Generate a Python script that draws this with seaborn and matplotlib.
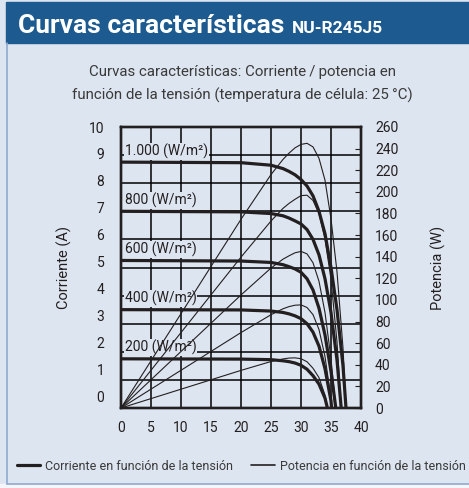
import numpy as np
import pandas as pd
import seaborn as sns
import matplotlib.pyplot as plt
from matplotlib import font_manager
from matplotlib.patches import Rectangle
from matplotlib.lines import Line2D

# curve data: voltage (V), current (A), power (W)
VOLTS_1000 = [0, 20, 25, 27, 28, 29, 30, 31, 32, 33, 34, 35, 36, 37, 37.5]
AMPS_1000 = [8.75, 8.73, 8.64, 8.52, 8.42, 8.30, 8.13, 7.90, 7.55, 7.00, 6.20, 5.00, 3.50, 1.50, 0]
WATTS_1000 = [0, 174.6, 216, 230, 235.8, 240.7, 243.9, 244.9, 241.6, 231, 210.8, 175, 126, 55.5, 0]

VOLTS_800 = [0, 20, 25, 27, 28, 29, 30, 31, 32, 33, 34, 35, 36, 36.7]
AMPS_800 = [7.00, 6.98, 6.92, 6.84, 6.76, 6.66, 6.55, 6.35, 6.00, 5.45, 4.60, 3.40, 1.70, 0]
WATTS_800 = [0, 139.6, 173, 184.7, 189.3, 193.1, 196.5, 196.9, 192, 179.9, 156.4, 119, 61.2, 0]

VOLTS_600 = [0, 20, 25, 27, 28, 29, 30, 31, 32, 33, 34, 35, 35.8]
AMPS_600 = [5.25, 5.23, 5.18, 5.10, 5.03, 4.95, 4.83, 4.60, 4.20, 3.55, 2.60, 1.30, 0]
WATTS_600 = [0, 104.6, 129.5, 137.7, 140.8, 143.6, 144.9, 142.6, 134.4, 117.2, 88.4, 45.5, 0]

VOLTS_400 = [0, 20, 25, 27, 28, 29, 30, 31, 32, 33, 34, 35, 35.1]
AMPS_400 = [3.50, 3.49, 3.45, 3.40, 3.35, 3.28, 3.18, 3.00, 2.70, 2.20, 1.40, 0.25, 0]
WATTS_400 = [0, 69.8, 86.3, 91.8, 93.8, 95.1, 95.4, 93, 86.4, 72.6, 47.6, 8.75, 0]

VOLTS_200 = [0, 20, 25, 27, 28, 29, 30, 31, 32, 33, 34, 34.4]
AMPS_200 = [1.75, 1.74, 1.72, 1.68, 1.65, 1.60, 1.52, 1.38, 1.15, 0.85, 0.35, 0]
WATTS_200 = [0, 34.8, 43, 45.4, 46.2, 46.4, 45.6, 42.8, 36.8, 28.1, 11.9, 0]

IRRADIANCE_LABELS = ["1.000 (W/m²)", "800 (W/m²)", "600 (W/m²)", "400 (W/m²)", "200 (W/m²)"]
X_TICKS = [0, 5, 10, 15, 20, 25, 30, 35, 40]
AMP_TICKS = [0, 1, 2, 3, 4, 5, 6, 7, 8, 9, 10]
WATT_TICKS = [0, 20, 40, 60, 80, 100, 120, 140, 160, 180, 200, 220, 240, 260]

HEADER = "#1c5a8f"
BODY = "#dde5f0"
INK = "#231f20"
TEXT = "#3a3a3a"

sns.set_theme(style="white")
available = {f.name for f in font_manager.fontManager.ttflist}
FONT = "Liberation Sans Narrow" if "Liberation Sans Narrow" in available else "Roboto"
plt.rcParams["font.family"] = [FONT, "DejaVu Sans"]

curves = []
for lab, v, a, w in zip(
    IRRADIANCE_LABELS,
    [VOLTS_1000, VOLTS_800, VOLTS_600, VOLTS_400, VOLTS_200],
    [AMPS_1000, AMPS_800, AMPS_600, AMPS_400, AMPS_200],
    [WATTS_1000, WATTS_800, WATTS_600, WATTS_400, WATTS_200],
):
    curves.append((lab, pd.DataFrame({"V": v, "I": a, "P": w})))

fig = plt.figure(figsize=(4.69, 4.88), dpi=100, facecolor=BODY)
# header band and box border
fig.patches.append(Rectangle((6 / 469, 1 - 43 / 488), 463 / 469, 41 / 488,
                             transform=fig.transFigure, color=HEADER, zorder=0))
fig.patches.append(Rectangle((0, 0), 1, 4 / 488, transform=fig.transFigure,
                             color="#f4f6fa", zorder=0))
fig.add_artist(Line2D([7 / 469, 7 / 469], [4.5 / 488, 1 - 43 / 488],
                      transform=fig.transFigure, color="#8eabd0", lw=1.2))
fig.add_artist(Line2D([7 / 469, 1], [4.5 / 488, 4.5 / 488],
                      transform=fig.transFigure, color="#8eabd0", lw=1.2))

fig.text(18 / 469, 1 - 33 / 488, "Curvas características", color="white",
         fontsize=19, fontweight="bold", va="baseline")
fig.text(292 / 469, 1 - 33 / 488, "NU-R245J5", color="white",
         fontsize=12.5, fontweight="bold", va="baseline")
fig.text(242 / 469, 1 - 72 / 488, "Curvas características: Corriente\u2009/\u2009potencia en",
         color=TEXT, fontsize=10.8, ha="center", va="center")
fig.text(242 / 469, 1 - 95 / 488, "función de la tensión (temperatura de célula: 25\u2009°C)",
         color=TEXT, fontsize=10.8, ha="center", va="center")

ax = fig.add_axes([121 / 469, 1 - 408 / 488, 240 / 469, 281 / 488])
ax.set_facecolor(BODY)
ax2 = ax.twinx()

for lab, df in curves:
    sns.lineplot(data=df, x="V", y="I", ax=ax, color=INK, lw=2.3, sort=False,
                 estimator=None, zorder=5)
    sns.lineplot(data=df, x="V", y="P", ax=ax2, color=INK, lw=0.8, sort=False,
                 estimator=None, zorder=3)
    ax.text(0.6, df["I"].iloc[0] + 0.12, lab, fontsize=10, color=INK, va="bottom",
            ha="left", zorder=4,
            bbox=dict(facecolor=BODY, edgecolor="none", pad=0.6))

# grid
for t in AMP_TICKS:
    ax.axhline(t, color="black", lw=1.1, zorder=1)
for t in X_TICKS:
    ax.axvline(t, color="black", lw=1.1, zorder=1)

ax.set_xlim(0, 40)
ax.set_ylim(0, 10)
ax2.set_ylim(0, 260)

ax.set_xticks(X_TICKS)
# the printed left labels sit slightly off the gridlines
ax.set_yticks([0.427 + 0.957 * t for t in AMP_TICKS], labels=[str(t) for t in AMP_TICKS])
ax.grid(False)
ax.tick_params(which="both", length=0)
ax.tick_params(axis="y", pad=12, labelsize=10, labelcolor=INK)
ax.tick_params(axis="x", pad=9, labelsize=10, labelcolor=INK)

ax2.set_yticks(WATT_TICKS)
ax2.tick_params(axis="y", direction="in", length=4, width=0.8, color=INK,
                pad=10, labelsize=10, labelcolor=INK)
ax2.grid(False)

for a in (ax, ax2):
    for s in a.spines.values():
        s.set_linewidth(1.7)
        s.set_color(INK)

ax.set_xlabel("")
ax.set_ylabel("Corriente (A)", fontsize=10.5, color=INK)
ax.yaxis.set_label_coords(-0.204, 0.5)
ax2.set_ylabel("Potencia (W)", fontsize=10.5, color=INK)
ax2.yaxis.set_label_coords(1.29, 0.5)

handles = [Line2D([], [], color=INK, lw=2.3), Line2D([], [], color=INK, lw=1.2)]
fig.legend(handles, ["Corriente en función de la tensión", "Potencia en función de la tensión"],
           loc="center", bbox_to_anchor=(241 / 469, 1 - 466 / 488), ncol=2, frameon=False,
           fontsize=9.0, handlelength=1.85, handletextpad=0.4, columnspacing=1.5,
           labelcolor=TEXT)

fig.savefig("out.png", dpi=100, facecolor=BODY)
